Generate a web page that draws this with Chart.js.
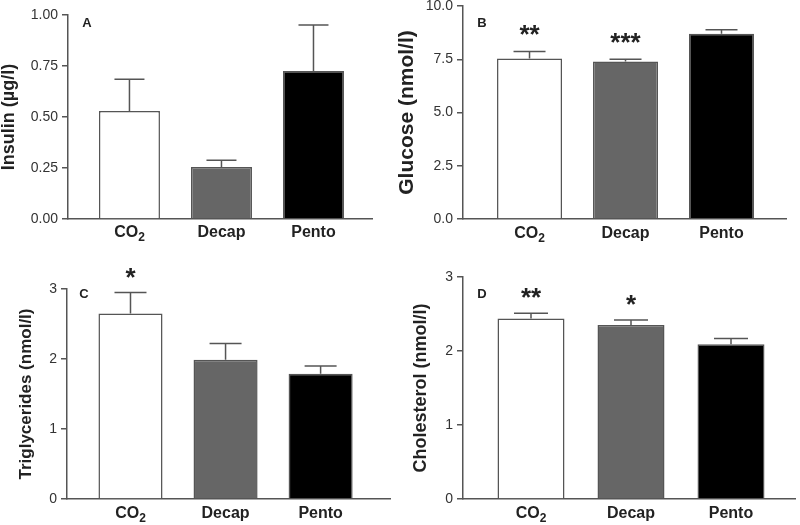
<!DOCTYPE html>
<html><head><meta charset="utf-8">
<script src="https://cdn.jsdelivr.net/npm/chart.js@4.4.0/dist/chart.umd.min.js"></script>
<style>
html,body{margin:0;padding:0;background:#fff;width:800px;height:525px;overflow:hidden;position:relative}
canvas{position:absolute}
</style></head><body>
<canvas id="cA" width="400" height="262" style="left:0px;top:0px"></canvas>
<canvas id="cB" width="410" height="272" style="left:390px;top:-10px"></canvas>
<canvas id="cC" width="400" height="263" style="left:0px;top:262px"></canvas>
<canvas id="cD" width="410" height="263" style="left:390px;top:262px"></canvas>
<script>
// ---- data ----
const categories = ['CO₂', 'Decap', 'Pento'];
const barColors = ['#ffffff', '#666666', '#000000'];

const insulin = [0.53, 0.255, 0.725];
const insulinSem = [0.155, 0.033, 0.226];
const insulinSig = ['', '', ''];
const insulinTicks = [0, 0.25, 0.5, 0.75, 1.0];

const glucose = [7.53, 7.39, 8.70];
const glucoseSem = [0.33, 0.11, 0.19];
const glucoseSig = ['**', '***', ''];
const glucoseTicks = [0, 2.5, 5.0, 7.5, 10.0];

const triglycerides = [2.65, 1.99, 1.79];
const triglyceridesSem = [0.30, 0.23, 0.11];
const triglyceridesSig = ['*', '', ''];
const trigTicks = [0, 1, 2, 3];

const cholesterol = [2.44, 2.35, 2.09];
const cholesterolSem = [0.07, 0.07, 0.08];
const cholesterolSig = ['**', '*', ''];
const cholTicks = [0, 1, 2, 3];

const FONT = '"Liberation Sans", Arial, Helvetica, sans-serif';
const LINE = '#555555';
const TEXT = '#222222';
const SUBS = '₀₁₂₃₄₅₆₇₈₉';

// draws a category label, rendering Unicode subscript digits as real lowered small digits
function drawLabel(ctx, text, cx, cy) {
  const big = 'bold 16px ' + FONT, small = 'bold 12px ' + FONT;
  const parts = [];
  for (const ch of text) {
    const k = SUBS.indexOf(ch);
    parts.push(k >= 0 ? {t: String(k), f: small, dy: 5} : {t: ch, f: big, dy: 0});
  }
  let w = 0;
  parts.forEach(p => { ctx.font = p.f; p.w = ctx.measureText(p.t).width; w += p.w; });
  let x = cx - w / 2;
  ctx.textAlign = 'left'; ctx.textBaseline = 'middle';
  parts.forEach(p => { ctx.font = p.f; ctx.fillText(p.t, x, cy + p.dy); x += p.w; });
}

const errPlugin = {
  id: 'errbars',
  afterDatasetsDraw(chart, args, o) {
    const ctx = chart.ctx, xs = chart.scales.x, ys = chart.scales.y;
    ctx.save();
    ctx.strokeStyle = LINE; ctx.lineWidth = 1.5;
    o.values.forEach((v, i) => {
      const px = xs.getPixelForValue(i);
      const base = ys.getPixelForValue(v);
      const top = ys.getPixelForValue(v + o.sem[i]);
      ctx.beginPath();
      ctx.moveTo(px, base); ctx.lineTo(px, top);
      ctx.moveTo(px - o.cap, top); ctx.lineTo(px + o.cap, top);
      ctx.stroke();
      if (o.sig[i]) {
        const fs = 26;
        ctx.fillStyle = TEXT;
        ctx.font = 'bold ' + fs + 'px ' + FONT;
        ctx.textAlign = 'center'; ctx.textBaseline = 'alphabetic';
        ctx.fillText(o.sig[i], px, top - o.gap + 0.573 * fs);
      }
      ctx.fillStyle = TEXT;
      drawLabel(ctx, categories[i], px, xs.top + o.labelDy);
    });
    ctx.fillStyle = TEXT;
    ctx.font = 'bold 13px ' + FONT;
    ctx.textAlign = 'center'; ctx.textBaseline = 'middle';
    ctx.fillText(o.letter, chart.chartArea.left + o.letterDx, chart.chartArea.top + o.letterDy);
    ctx.restore();
  }
};

function makePanel(id, p) {
  new Chart(document.getElementById(id), {
    type: 'bar',
    data: {
      datasets: [{
        data: p.values.map((v, i) => ({x: i, y: v})),
        backgroundColor: barColors,
        borderColor: LINE,
        borderWidth: 1.5,
        borderSkipped: 'bottom',
        barPercentage: p.barPct,
        categoryPercentage: 1.0
      }]
    },
    options: {
      responsive: false,
      animation: false,
      events: [],
      layout: {padding: {left: 0, top: p.padTop, right: p.padRight, bottom: 0}},
      plugins: {
        legend: {display: false},
        tooltip: {enabled: false},
        errbars: {values: p.values, sem: p.sem, sig: p.sig, cap: p.cap, gap: p.gap, labelDy: p.labelDy,
                  letter: p.letter, letterDx: p.letterDx, letterDy: p.letterDy}
      },
      scales: {
        x: {
          type: 'linear',
          offset: false,
          bounds: 'data',
          min: p.xmin, max: p.xmax,
          grid: {display: false, drawTicks: false, offset: false},
          border: {display: true, color: LINE, width: 1.5},
          afterBuildTicks: s => { s.ticks = categories.map((c, i) => ({value: i})); },
          afterFit: s => { s.height = p.xHeight; },
          ticks: {display: false}
        },
        y: {
          min: p.ticks[0], max: p.ticks[p.ticks.length - 1],
          grid: {display: true, drawOnChartArea: false, drawTicks: true, tickLength: 6, color: LINE, lineWidth: 1.5},
          border: {display: true, color: LINE, width: 1.5},
          afterBuildTicks: s => { s.ticks = p.ticks.map(v => ({value: v})); },
          afterFit: s => { s.width = p.yWidth; },
          ticks: {
            padding: 4,
            color: '#333333',
            font: {family: FONT, size: 14},
            callback: v => v.toFixed(p.dec)
          },
          title: {
            display: true, text: p.title, color: TEXT,
            font: {family: FONT, size: p.titleSize, weight: 'bold', lineHeight: 1},
            padding: {top: p.titlePad, bottom: 0}
          }
        }
      }
    },
    plugins: [errPlugin]
  });
}

makePanel('cA', {values: insulin, sem: insulinSem, sig: insulinSig, ticks: insulinTicks, dec: 2,
  title: 'Insulin (µg/l)', titleSize: 18, titlePad: 0,
  padTop: 15, padRight: 28, yWidth: 68, xHeight: 43, labelDy: 14, barPct: 0.663,
  xmin: -0.668, xmax: 2.636, cap: 15, gap: 21, letter: 'A', letterDx: 19, letterDy: 8});

makePanel('cB', {values: glucose, sem: glucoseSem, sig: glucoseSig, ticks: glucoseTicks, dec: 1,
  title: 'Glucose (nmol/l)', titleSize: 21, titlePad: 7,
  padTop: 16, padRight: 14, yWidth: 73, xHeight: 43, labelDy: 15, barPct: 0.677,
  xmin: -0.693, xmax: 2.672, cap: 16, gap: 23, letter: 'B', letterDx: 19, letterDy: 17});

makePanel('cC', {values: triglycerides, sem: triglyceridesSem, sig: triglyceridesSig, ticks: trigTicks, dec: 0,
  title: 'Triglycerides (nmol/l)', titleSize: 17, titlePad: 18,
  padTop: 27, padRight: 10, yWidth: 67, xHeight: 26, labelDy: 15, barPct: 0.674,
  xmin: -0.668, xmax: 2.73, cap: 16, gap: 21, letter: 'C', letterDx: 17, letterDy: 5});

makePanel('cD', {values: cholesterol, sem: cholesterolSem, sig: cholesterolSig, ticks: cholTicks, dec: 0,
  title: 'Cholesterol (nmol/l)', titleSize: 18, titlePad: 22,
  padTop: 15, padRight: 5, yWidth: 73, xHeight: 26, labelDy: 15, barPct: 0.67,
  xmin: -0.68, xmax: 2.64, cap: 17, gap: 22, letter: 'D', letterDx: 19, letterDy: 17});
</script>
</body></html>
